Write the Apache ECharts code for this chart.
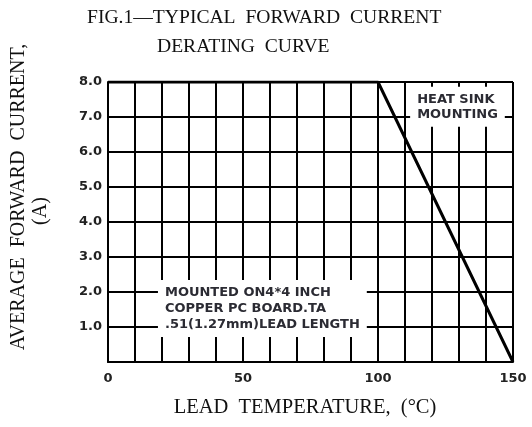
<!DOCTYPE html>
<html>
<head>
<meta charset="utf-8">
<script src="https://cdn.jsdelivr.net/npm/echarts@6/dist/echarts.min.js"></script>
<style>
  html, body { margin: 0; padding: 0; background: #fff; }
  #chart { width: 532px; height: 427px; }
</style>
</head>
<body>
<div id="chart"></div>
<script>
// derating curve: lead temperature (°C) vs average forward current (A)
var tempPoints = [0, 100, 150];
var currentPoints = [8.0, 8.0, 0];
var xTicks = [0, 50, 100, 150];
var yTicks = [1.0, 2.0, 3.0, 4.0, 5.0, 6.0, 7.0, 8.0];

var heatSinkNote = ['HEAT SINK', 'MOUNTING'];
var boardNote = ['MOUNTED ON4*4 INCH', 'COPPER PC BOARD.TA', '.51(1.27mm)LEAD LENGTH'];

var serif = '"Liberation Serif", "DejaVu Serif", serif';
var sans = '"DejaVu Sans", "Liberation Sans", sans-serif';

var chart = echarts.init(document.getElementById('chart'));

var curve = [];
for (var i = 0; i < tempPoints.length; i++) {
    curve.push([tempPoints[i], currentPoints[i]]);
}

var noteLabel = {
    show: true,
    position: 'inside',
    color: '#2b2b33',
    fontFamily: sans,
    fontWeight: 'bold',
    fontSize: 13,
    align: 'left',
    backgroundColor: '#fff'
};

option = {
    animation: false,
    backgroundColor: '#fff',
    title: [
        {
            text: 'FIG.1\u2014TYPICAL  FORWARD  CURRENT',
            left: 87, top: 8, padding: 0,
            textStyle: { fontFamily: serif, fontWeight: 'normal', fontSize: 19.6, color: '#111' }
        },
        {
            text: 'DERATING  CURVE',
            left: 157, top: 37, padding: 0,
            textStyle: { fontFamily: serif, fontWeight: 'normal', fontSize: 19.6, color: '#111' }
        }
    ],
    graphic: [
        {
            type: 'text', x: 9, y: 197, rotation: Math.PI / 2,
            style: {
                text: 'AVERAGE  FORWARD  CURRENT,',
                fontFamily: serif, fontSize: 20, fill: '#111',
                align: 'center', verticalAlign: 'top'
            }
        },
        {
            type: 'text', x: 31, y: 211, rotation: Math.PI / 2,
            style: {
                text: '(A)',
                fontFamily: serif, fontSize: 20, fill: '#111',
                align: 'center', verticalAlign: 'top'
            }
        },
        {
            type: 'text', x: 305, y: 397,
            style: {
                text: 'LEAD  TEMPERATURE,  (\u00b0C)',
                fontFamily: serif, fontSize: 20.5, fill: '#111',
                align: 'center', verticalAlign: 'top'
            }
        }
    ],
    grid: { left: 108, right: 19, top: 82, bottom: 65 },
    xAxis: {
        type: 'value', min: 0, max: 150, interval: 10,
        axisLine: { show: true, lineStyle: { color: '#000', width: 2 } },
        axisTick: { show: false },
        splitLine: { show: true, lineStyle: { color: '#000', width: 2 } },
        axisLabel: {
            margin: 10,
            fontFamily: sans, fontWeight: 'bold', fontSize: 13, color: '#222',
            formatter: function (v) { return xTicks.indexOf(v) >= 0 ? String(v) : ''; }
        }
    },
    yAxis: {
        type: 'value', min: 0, max: 8, interval: 1,
        axisLine: { show: true, lineStyle: { color: '#000', width: 2 } },
        axisTick: { show: false },
        splitLine: { show: true, lineStyle: { color: '#000', width: 2 } },
        axisLabel: {
            margin: 6,
            fontFamily: sans, fontWeight: 'bold', fontSize: 13, color: '#222',
            formatter: function (v) { return yTicks.indexOf(v) >= 0 ? v.toFixed(1) : ''; }
        }
    },
    series: [
        {
            type: 'line',
            data: curve,
            symbol: 'none',
            lineStyle: { color: '#000', width: 3 },
            z: 5,
            markPoint: {
                symbol: 'rect',
                symbolSize: 0,
                data: [
                    {
                        // left edge of the note box, vertical centre
                        coord: [111.9, 7.29],
                        label: Object.assign({}, noteLabel, {
                            formatter: heatSinkNote.join('\n'),
                            lineHeight: 15,
                            padding: [5, 7, 5, 7]
                        })
                    },
                    {
                        coord: [18.5, 1.53],
                        label: Object.assign({}, noteLabel, {
                            formatter: boardNote.join('\n'),
                            lineHeight: 16,
                            padding: [5, 7, 4, 7]
                        })
                    }
                ]
            }
        }
    ]
};

chart.setOption(option);
</script>
</body>
</html>
